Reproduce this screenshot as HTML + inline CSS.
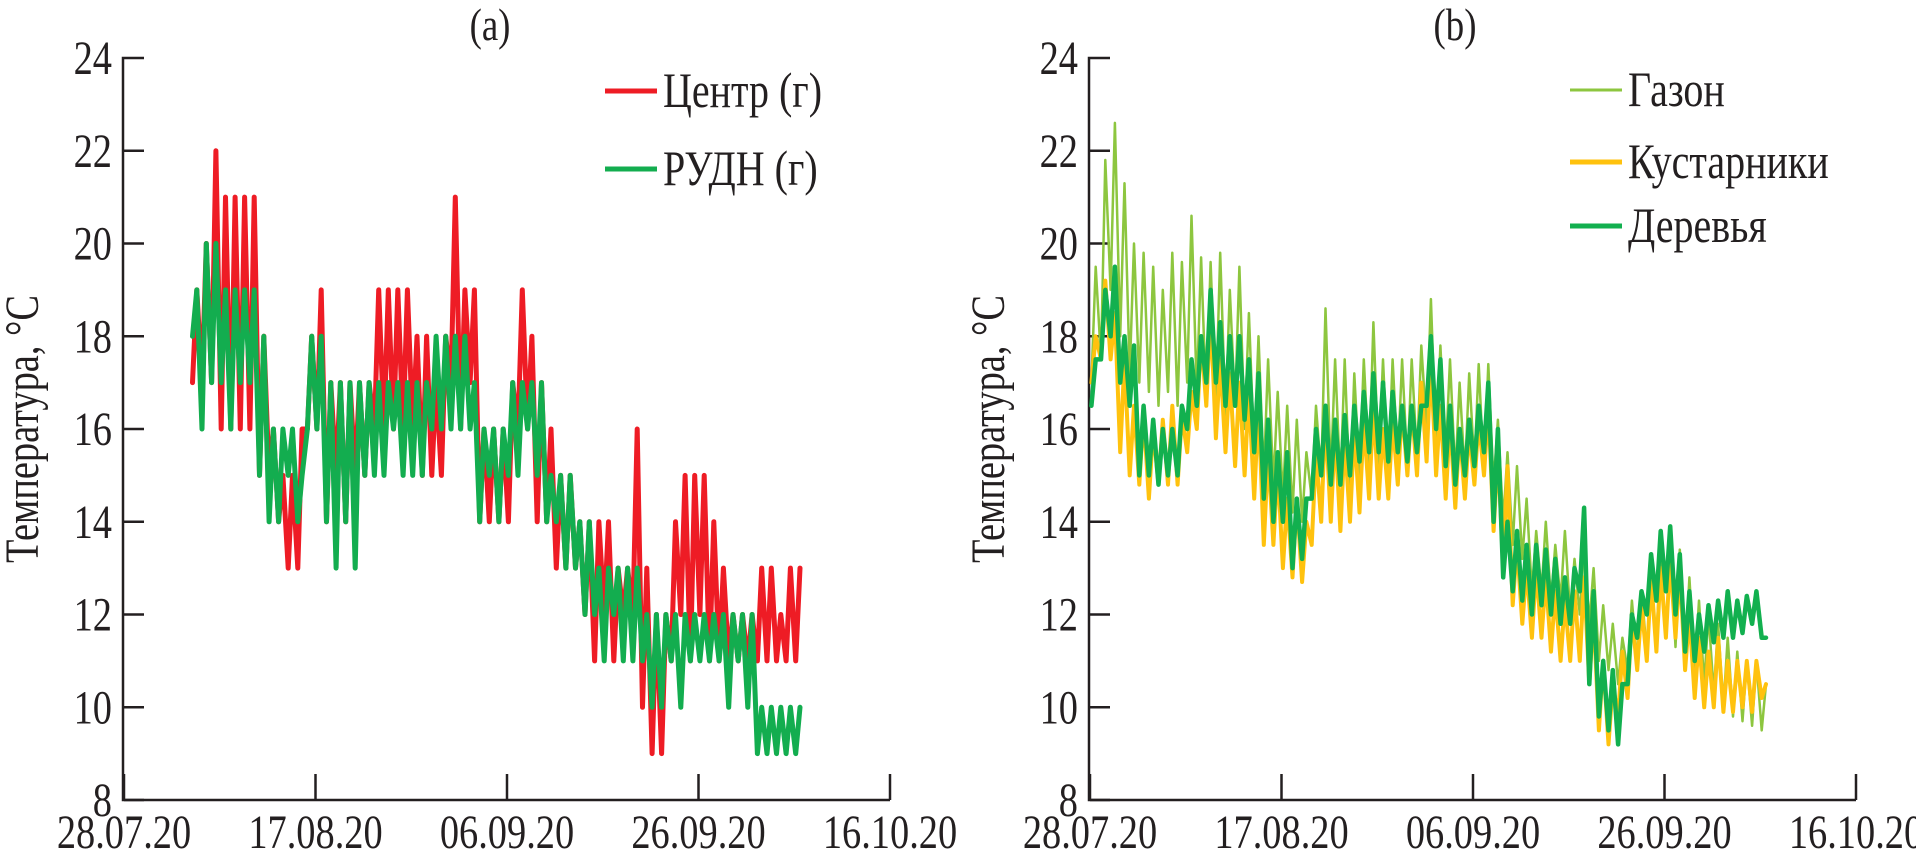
<!DOCTYPE html>
<html><head><meta charset="utf-8"><style>
html,body{margin:0;padding:0;background:#fff;}
svg{display:block;font-family:"Liberation Serif",serif;}
</style></head><body>
<svg id="c" width="1916" height="861" xmlns="http://www.w3.org/2000/svg"></svg>
<script>
const xTickLabels=["28.07.20","17.08.20","06.09.20","26.09.20","16.10.20"];
const xTickDays=[0,20,40,60,80];
const yTicks=[8,10,12,14,16,18,20,22,24];
const leftStartDay=7;
const redMax=[19,20,22,21,21,21,21,18,16,15,15,16,18,19,17,17,17,17,17,19,19,19,19,18,18,17,18,21,19,19,16,16,16,17,19,18,17,16,15,15,14,14,14,14,13,13,16,13,12,12,14,15,15,15,14,13,12,12,12,13,13,12,13,13];
const redMin=[17,17,17,16,16,16,16,15,15,14,13,13,16,16,14,15,14,15,15,16,16,16,16,16,15,15,15,17,16,17,14,14,14,14,16,16,14,14,13,13,13,12,11,12,11,12,12,10,9,9,11,12,11,12,11,11,11,11,11,11,11,11,11,11];
const greenMax=[19,20,20,19,19,19,19,18,16,16,16,15,18,18,17,17,17,17,17,17,17,17,17,17,17,18,18,18,18,17,16,16,16,17,17,17,17,15,15,15,14,14,13,13,13,13,13,12,12,12,12,12,12,12,12,12,12,12,12,10,10,10,10,10];
const greenMin=[18,16,17,17,16,17,17,15,14,14,15,14,16,16,14,13,14,13,15,15,15,16,15,15,15,16,16,16,16,16,14,15,14,15,15,16,15,14,14,13,13,12,12,11,12,11,11,11,10,10,11,10,11,11,11,11,10,11,10,9,9,9,9,9];
const rightStartDay=0;
const gazonMax=[19.5,21.8,22.6,21.3,20,19.8,19.5,19,19.8,19.6,20.6,19.7,19.6,19.8,19,19.5,18.5,18,17.5,16.8,16.5,16.2,15.5,16.5,18.6,17.5,17.5,17.2,17.5,18.3,17.5,17.5,17.5,17.5,17.8,18.8,17.8,17.5,17,17.2,17.4,17.4,16.2,15.5,15.2,14.5,13.8,14,13.5,13.8,13.2,13.5,13,12.2,11.8,11.5,12.3,12.5,12.6,13.3,13.5,13.4,12.8,12.3,12,11.8,11.5,11.2,11,11,10.5];
const gazonMin=[17,17.5,19,18,17.2,17,16.8,16.5,16.8,16.5,17,16.8,16.5,16.5,16.3,16.5,16,15.5,15,14.8,14.5,14.2,14,14.5,15,15,14.8,14.5,15,15.2,15.2,15,15.3,15.2,15.4,16,15.6,15.4,15,15,15.2,15,14.8,14,13.5,13.2,12.5,12.5,12.3,12.3,12,12,11.8,11,10.8,10.5,10.8,11,11.2,11.5,11.5,11.3,11,10.8,10.5,10.3,10,9.8,9.7,9.6,9.5];
const shrubMax=[18,19.2,18.5,17.5,16.5,16.3,16,16.2,16.5,16.3,16.8,18,18.5,17.5,17.2,17,16.8,16.5,15.5,15.2,14.5,14.5,14,15.5,16.3,16,15.8,16,16.2,16.5,16,16.2,16.5,16.5,17,17.5,16.5,16.2,16,16,16.2,16.5,15.5,15.2,13.5,13,13,12.8,12.5,12.3,12.5,12.8,12,11,10.5,11.2,12,12.2,12.8,13,13.2,13,12,11.5,11.2,11.5,11,11,11,11,10.5];
const shrubMin=[17,17.5,17.5,15.5,15,14.8,14.5,14.8,14.8,14.8,15.5,16,16.5,15.8,15.5,15.2,15,14.5,13.5,13.5,13,12.8,12.7,13.5,14,14,13.8,14,14.2,14.5,14.5,14.5,14.8,15,15,15.3,15,14.5,14.3,14.5,14.8,15,13.8,13,12.2,11.8,11.5,11.5,11.2,11,11,11,10.5,9.5,9.2,9.8,10.2,10.8,11,11.2,11.5,11.5,10.8,10.2,10,10,9.9,9.9,10,9.9,10.2];
const treeMax=[17.5,19,19.5,18,17.8,16.5,16.2,16,16,16.5,17.5,18,19,18.3,18,18,17.5,17.2,16.2,15.5,15.5,14.5,14.5,16,16.5,16.2,16.3,16.5,16.8,17.2,17,16.8,16.5,16.5,16.5,18,17.5,16.5,16,16.2,16.5,17,16,14,13.8,13.5,13.5,13.4,13.2,12.8,13,14.3,12.5,11,10.8,10.5,12,12.5,13.3,13.8,13.9,13.3,12.5,12,12.2,12.3,12.5,12.3,12.4,12.5,11.5];
const treeMin=[16.5,17.5,18,17,16.5,15,15,14.8,15,15,16,16.5,17,17,16.5,16.5,16.2,15.5,14.5,14,14,13,13.2,14.5,15,14.8,14.8,15,15.3,15.5,15.5,15.3,15.5,15.3,15.5,16.5,16,15.2,14.8,15,15.2,15.5,14,12.8,12.5,12.3,12,12.2,12,11.8,11.8,12.5,10.5,9.8,9.5,9.2,10.5,11.5,12,12.3,12.5,12,11.2,11,11.2,11.4,11.5,11.5,11.6,11.8,11.5];

const NS="http://www.w3.org/2000/svg";
const svg=document.getElementById('c');
const SX=0.8;
function mk(tag,attrs,parent){const e=document.createElementNS(NS,tag);for(const k in attrs)e.setAttribute(k,attrs[k]);(parent||svg).appendChild(e);return e;}
function txt(parent,x,y,size,anchor,str,rot){
  const tr=rot?`translate(${x},${y}) rotate(-90) scale(${SX},1)`:`translate(${x},${y}) scale(${SX},1)`;
  const t=mk('text',{x:0,y:0,transform:tr,'text-anchor':anchor,'font-size':size,fill:'#231f20'},parent);
  t.textContent=str;return t;
}
const yTop=58,yBot=800;
function yScale(v){return yBot-(v-8)/(24-8)*(yBot-yTop);}
function makeX(x0){return d=>x0+d*(191.5/20);}

function panel(x0,title,titleX,name){
  const xs=makeX(x0);
  const g=mk('g',{});
  
  
  const ax=mk('path',{d:`M${x0} ${yTop}H${x0-1}V${yBot}H${xs(80)}`,fill:'none',stroke:'#231f20','stroke-width':2.5},g);
  
  
  yTicks.forEach(v=>{
    const t=mk('line',{x1:x0,x2:x0+20,y1:yScale(v),y2:yScale(v),stroke:'#231f20','stroke-width':2.5},g);
    
    
    const l=txt(g,x0-12,yScale(v)+16,48,'end',String(v));
    
    
  });
  xTickDays.forEach((d,i)=>{
    const t=mk('line',{x1:xs(d),x2:xs(d),y1:yBot,y2:yBot-26,stroke:'#231f20','stroke-width':2.5},g);
    
    
    const l=txt(g,xs(d),yBot+48,48,'middle',xTickLabels[i]);
    
    
  });
  const tt=txt(g,titleX,40,46,'middle',title);
  
  
  const yl=txt(g,x0-86,yScale(16),48,'middle','Температура, °C',true);
  
  
  return xs;
}
function series(xs,start,mx,mn,color,w,name){
  const pts=[];
  for(let i=0;i<mx.length;i++){
    const d=start+i;
    pts.push(xs(d+0.15).toFixed(1)+','+yScale(mn[i]).toFixed(1));
    pts.push(xs(d+0.6).toFixed(1)+','+yScale(mx[i]).toFixed(1));
  }
  const p=mk('polyline',{points:pts.join(' '),fill:'none',stroke:color,'stroke-width':w,'stroke-linejoin':'round','stroke-linecap':'round'});
  
  
}
function legend(x,y,color,w,label,name){
  const g=mk('g',{});
  
  
  mk('line',{x1:x,x2:x+52,y1:y,y2:y,stroke:color,'stroke-width':w},g);
  txt(g,x+58,y+16,50,'start',label);
}
const xl=panel(124,'(a)',490,'panel-a');
const xr=panel(1090,'(b)',1455,'panel-b');
series(xl,leftStartDay,redMax,redMin,'#ee1c25',5,'series-centr');
series(xl,leftStartDay,greenMax,greenMin,'#13ad4f',5,'series-rudn');
series(xr,rightStartDay,gazonMax,gazonMin,'#8dc63f',2.5,'series-gazon');
series(xr,rightStartDay,shrubMax,shrubMin,'#ffc20e',4,'series-kustarniki');
series(xr,rightStartDay,treeMax,treeMin,'#12b04f',4.5,'series-derevya');
legend(605,91,'#ee1c25',5,'Центр (г)','legend-centr');
legend(605,169,'#13ad4f',5,'РУДН (г)','legend-rudn');
legend(1570,90,'#8dc63f',3,'Газон','legend-gazon');
legend(1570,162,'#ffc20e',5,'Кустарники','legend-kustarniki');
legend(1570,226,'#12b04f',5,'Деревья','legend-derevya');
</script>
</body></html>
